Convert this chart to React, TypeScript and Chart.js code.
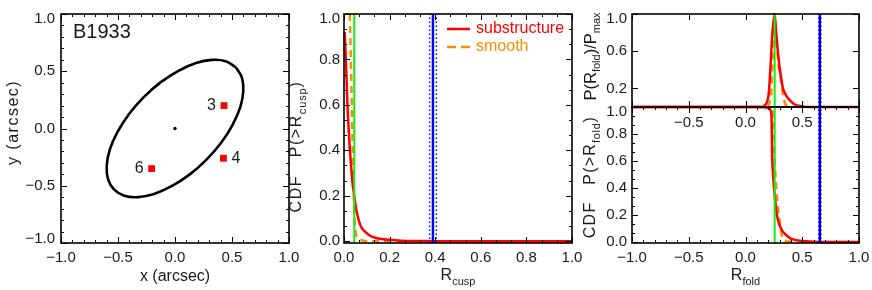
import React, { useEffect, useRef } from 'react';
import { Chart, registerables } from 'chart.js';

Chart.register(...registerables);

// ---------------- data ----------------
const LENS_NAME = 'B1933';
const POS_TICKS = [-1.0, -0.5, 0.0, 0.5, 1.0];
const ELLIPSE_X = [0.534, 0.445, 0.325, 0.184, 0.03, -0.127, -0.274, -0.403, -0.504, -0.572, -0.599, -0.587, -0.534, -0.445, -0.325, -0.184, -0.03, 0.127, 0.274, 0.403, 0.504, 0.572, 0.599, 0.587, 0.534];
const ELLIPSE_Y = [0.534, 0.587, 0.599, 0.572, 0.504, 0.403, 0.274, 0.127, -0.03, -0.184, -0.325, -0.445, -0.534, -0.587, -0.599, -0.572, -0.504, -0.403, -0.274, -0.127, 0.03, 0.184, 0.325, 0.445, 0.534];
const IMAGE_IDS = ['3', '4', '6'];
const IMAGE_X = [0.43, 0.425, -0.205];
const IMAGE_Y = [0.2, -0.26, -0.35];
const IMAGE_LABEL_SIDE = [-1, 1, -1];
const LENS_CENTER_X = [0.0];
const LENS_CENTER_Y = [0.0];

const SERIES_NAMES = ['substructure', 'smooth'];
const CUSP_TICKS = [0.0, 0.2, 0.4, 0.6, 0.8, 1.0];
const CDF_TICKS = [0.0, 0.2, 0.4, 0.6, 0.8, 1.0];
const CDF_MIN = -0.008;
const CDF_MAX = 1.0;
const CUSP_SUB_R = [0.003, 0.006, 0.01, 0.015, 0.02, 0.026, 0.032, 0.038, 0.045, 0.052, 0.06, 0.07, 0.08, 0.1, 0.12, 0.15, 0.2, 0.25, 0.3, 0.4, 0.6, 0.8, 1.0];
const CUSP_SUB_CDF = [0.92, 0.85, 0.75, 0.6, 0.5, 0.4, 0.32, 0.25, 0.2, 0.15, 0.11, 0.075, 0.055, 0.035, 0.021, 0.012, 0.006, 0.002, 0.001, 0.0, 0.0, 0.0, 0.0];
const CUSP_SMOOTH_R = [0.025, 0.028, 0.032, 0.036, 0.04, 0.044, 0.048, 0.055, 0.07, 0.1, 0.25];
const CUSP_SMOOTH_CDF = [1.0, 0.9, 0.72, 0.5, 0.3, 0.15, 0.06, 0.02, 0.005, 0.0, 0.0];
const CUSP_SMOOTH_PRED = 0.045;
const CUSP_OBSERVED = 0.39;
const CUSP_OBSERVED_ERR = [0.375, 0.405];

const FOLD_TICKS = [-1.0, -0.5, 0.0, 0.5, 1.0];
const FOLD_TOP_LABELS = [-0.5, 0.0, 0.5];
const PDF_TICKS = [0.2, 0.6, 1.0];
const FOLD_SUB_R = [-1.0, 0.15, 0.185, 0.205, 0.22, 0.237, 0.257, 0.27, 0.285, 0.3, 0.33, 0.36, 0.39, 0.43, 0.48, 0.55, 1.0];
const FOLD_SUB_PDF = [0.0, 0.0, 0.04, 0.15, 0.43, 0.8, 1.0, 0.8, 0.6, 0.43, 0.2, 0.12, 0.075, 0.03, 0.01, 0.0, 0.0];
const FOLD_SMOOTH_R = [0.2, 0.225, 0.237, 0.248, 0.257, 0.27, 0.29, 0.316, 0.33, 0.35, 0.38];
const FOLD_SMOOTH_PDF = [0.0, 0.1, 0.43, 0.8, 1.0, 0.75, 0.45, 0.27, 0.12, 0.03, 0.0];
const FOLD_SUB_CDF_R = [-1.0, 0.15, 0.19, 0.215, 0.228, 0.232, 0.236, 0.251, 0.265, 0.277, 0.29, 0.307, 0.33, 0.36, 0.4, 0.45, 0.5, 0.6, 0.7, 1.0];
const FOLD_SUB_CDF = [1.0, 1.0, 0.995, 0.985, 0.95, 0.8, 0.6, 0.4, 0.28, 0.2, 0.15, 0.11, 0.075, 0.05, 0.025, 0.013, 0.006, 0.002, 0.0, 0.0];
const FOLD_SMOOTH_CDF_R = [0.15, 0.225, 0.237, 0.25, 0.26, 0.275, 0.29, 0.305, 0.316, 0.33, 0.36, 0.42];
const FOLD_SMOOTH_CDF = [1.0, 1.0, 0.97, 0.75, 0.55, 0.35, 0.22, 0.13, 0.06, 0.02, 0.005, 0.0];
const FOLD_SMOOTH_PRED = 0.257;
const FOLD_OBSERVED = 0.655;
const FOLD_OBSERVED_ERR = [0.646, 0.664];

// ---------------- style ----------------
const W = 872;
const H = 290;
const FONT = "'Liberation Sans', Arial, Helvetica, sans-serif";
const TEXT = '#1a1a1a';
const RED = '#ff0000';
const ORANGE = '#ff8c00';
const GREEN = '#11ee11';
const BLUE = '#0000ff';
const AXIS_BOX = 40;
const MAJOR_LEN = 6;
const MINOR_LEN = 3;

type Area = { L: number; R: number; T: number; B: number };
const P1: Area = { L: 61, R: 289, T: 14, B: 243 };
const P2: Area = { L: 344, R: 572, T: 14, B: 243 };
const P3T: Area = { L: 632, R: 859, T: 14, B: 107 };
const P3B: Area = { L: 632, R: 859, T: 107, B: 243 };

type Pt = { x: number; y: number };
const pts = (xs: number[], ys: number[]): Pt[] => xs.map((x, i) => ({ x, y: ys[i] }));
const vline = (x: number, lo: number, hi: number): Pt[] => [{ x, y: lo }, { x, y: hi }];

function fmt(v: number): string {
  const s = Math.abs(v).toFixed(1);
  return v < -1e-9 ? '\u2212' + s : s;
}

function xAxis(min: number, max: number, labels: number[], pad: number) {
  return {
    type: 'linear',
    position: 'bottom',
    min,
    max,
    grid: { display: false, drawTicks: false },
    border: { display: false },
    afterBuildTicks: (s: any) => {
      s.ticks = labels.map((v) => ({ value: v }));
    },
    afterFit: (s: any) => {
      s.height = AXIS_BOX;
      s.paddingLeft = 0;
      s.paddingRight = 0;
    },
    ticks: {
      autoSkip: false,
      maxRotation: 0,
      minRotation: 0,
      padding: pad,
      color: TEXT,
      font: { family: FONT, size: 15 },
      callback: (v: any) => fmt(Number(v)),
    },
  };
}

function yAxis(min: number, max: number, labels: number[], pad: number, nudgeTop: boolean, nudgeBottom: boolean) {
  return {
    type: 'linear',
    position: 'left',
    min,
    max,
    grid: { display: false, drawTicks: false },
    border: { display: false },
    afterBuildTicks: (s: any) => {
      s.ticks = labels.map((v) => ({ value: v }));
    },
    afterFit: (s: any) => {
      s.width = AXIS_BOX;
      s.paddingTop = 0;
      s.paddingBottom = 0;
    },
    ticks: {
      autoSkip: false,
      padding: pad,
      color: TEXT,
      font: { family: FONT, size: 15, lineHeight: 0.6 },
      callback: (v: any, i: number, arr: any[]) => {
        const s = fmt(Number(v));
        if (nudgeTop && i === arr.length - 1) return ['', s];
        if (nudgeBottom && i === 0) return [s, ''];
        return s;
      },
    },
  };
}

function baseOptions(area: Area, x: any, y: any) {
  return {
    responsive: false,
    maintainAspectRatio: false,
    animation: false,
    devicePixelRatio: 1,
    events: [],
    layout: {
      autoPadding: false,
      padding: { left: area.L - AXIS_BOX, right: W - area.R, top: area.T, bottom: H - area.B - AXIS_BOX },
    },
    scales: { x, y },
    plugins: { legend: { display: false }, tooltip: { enabled: false } },
  };
}

const line = (data: Pt[], color: string, width: number, extra: any = {}) => ({
  data,
  showLine: true,
  borderColor: color,
  backgroundColor: color,
  borderWidth: width,
  pointRadius: 0,
  pointHoverRadius: 0,
  fill: false,
  clip: 4,
  tension: 0,
  ...extra,
});

type AxisTicks = { major: number[]; div: number };
function framePlugin(xt: AxisTicks, yt: AxisTicks) {
  const expand = (t: AxisTicks) => {
    const out: { v: number; len: number }[] = [];
    t.major.forEach((m, i) => {
      out.push({ v: m, len: MAJOR_LEN });
      if (i < t.major.length - 1 && t.div > 1) {
        const step = (t.major[i + 1] - m) / t.div;
        for (let k = 1; k < t.div; k++) out.push({ v: m + k * step, len: MINOR_LEN });
      }
    });
    return out;
  };
  return {
    id: 'idlFrame',
    afterDatasetsDraw(chart: any) {
      const { ctx, chartArea: a } = chart;
      const xs = chart.scales.x;
      const ys = chart.scales.y;
      ctx.save();
      ctx.strokeStyle = '#000';
      ctx.lineWidth = 1;
      ctx.beginPath();
      for (const t of expand(xt)) {
        const p = Math.round(xs.getPixelForValue(t.v)) + 0.5;
        ctx.moveTo(p, a.bottom);
        ctx.lineTo(p, a.bottom - t.len);
        ctx.moveTo(p, a.top);
        ctx.lineTo(p, a.top + t.len);
      }
      for (const t of expand(yt)) {
        const p = Math.round(ys.getPixelForValue(t.v)) + 0.5;
        ctx.moveTo(a.left, p);
        ctx.lineTo(a.left + t.len, p);
        ctx.moveTo(a.right, p);
        ctx.lineTo(a.right - t.len, p);
      }
      ctx.stroke();
      ctx.lineWidth = 1.6;
      ctx.strokeRect(a.left, a.top, a.right - a.left, a.bottom - a.top);
      ctx.restore();
    },
  };
}

type Part = { t: string; sub?: boolean };
function drawRich(ctx: CanvasRenderingContext2D, parts: Part[], x: number, y: number, rotate: boolean, size: number, color: string, align: 'center' | 'left', spacing: number) {
  const subSize = Math.round(size * 0.68);
  ctx.save();
  ctx.translate(x, y);
  if (rotate) ctx.rotate(-Math.PI / 2);
  ctx.fillStyle = color;
  ctx.textBaseline = 'middle';
  ctx.textAlign = 'left';
  const glyphs: { ch: string; w: number; sub: boolean }[] = [];
  for (const p of parts) {
    ctx.font = `${p.sub ? subSize : size}px ${FONT}`;
    if (spacing > 0) {
      for (const ch of p.t) glyphs.push({ ch, w: ctx.measureText(ch).width + spacing * (p.sub ? 0.6 : 1), sub: !!p.sub });
    } else {
      glyphs.push({ ch: p.t, w: ctx.measureText(p.t).width, sub: !!p.sub });
    }
  }
  const total = glyphs.reduce((s, g) => s + g.w, 0);
  let cx = align === 'center' ? -total / 2 : 0;
  for (const g of glyphs) {
    ctx.font = `${g.sub ? subSize : size}px ${FONT}`;
    ctx.fillText(g.ch, cx, g.sub ? size * 0.38 : 0);
    cx += g.w;
  }
  ctx.restore();
}

type TextItem = { parts: Part[]; rx: number; ry: number; dx: number; dy: number; rotate?: boolean; size?: number; color?: string; align?: 'center' | 'left'; spacing?: number };
function textPlugin(items: TextItem[]) {
  return {
    id: 'idlText',
    afterDraw(chart: any) {
      const a = chart.chartArea;
      for (const it of items) {
        const x = a.left + it.rx * (a.right - a.left) + it.dx;
        const y = a.top + it.ry * (a.bottom - a.top) + it.dy;
        drawRich(chart.ctx, it.parts, x, y, !!it.rotate, it.size || 16, it.color || TEXT, it.align || 'center', it.spacing || 0);
      }
    },
  };
}

function pointLabelPlugin(dsIndex: number, labels: string[], sides: number[]) {
  return {
    id: 'pointLabels',
    afterDatasetsDraw(chart: any) {
      const meta = chart.getDatasetMeta(dsIndex);
      const ctx = chart.ctx;
      ctx.save();
      ctx.font = `16px ${FONT}`;
      ctx.fillStyle = TEXT;
      ctx.textBaseline = 'middle';
      meta.data.forEach((el: any, i: number) => {
        const s = sides[i];
        ctx.textAlign = s < 0 ? 'right' : 'left';
        ctx.fillText(labels[i], el.x + s * 8, el.y);
      });
      ctx.restore();
    },
  };
}

function legendPlugin(items: { label: string; color: string; dash: number[] }[]) {
  return {
    id: 'idlLegend',
    afterDraw(chart: any) {
      const a = chart.chartArea;
      const ctx = chart.ctx;
      ctx.save();
      items.forEach((it, i) => {
        const y = a.top + 15 + i * 18;
        ctx.strokeStyle = it.color;
        ctx.lineWidth = 2.5;
        ctx.setLineDash(it.dash);
        ctx.beginPath();
        ctx.moveTo(a.left + 103, y);
        ctx.lineTo(a.left + 126, y);
        ctx.stroke();
        ctx.setLineDash([]);
        ctx.fillStyle = it.color;
        ctx.font = `16px ${FONT}`;
        ctx.textBaseline = 'middle';
        ctx.textAlign = 'left';
        ctx.fillText(it.label, a.left + 132, y);
      });
      ctx.restore();
    },
  };
}

// ---------------- panels ----------------
function panel1(): any {
  return {
    type: 'scatter',
    data: {
      datasets: [
        { data: pts(IMAGE_X, IMAGE_Y), pointStyle: 'rect', pointRadius: 4.8, backgroundColor: RED, borderColor: RED, borderWidth: 0, pointHoverRadius: 4.8 },
        { data: pts(LENS_CENTER_X, LENS_CENTER_Y), pointRadius: 1.7, backgroundColor: '#000', borderWidth: 0 },
        line(pts(ELLIPSE_X, ELLIPSE_Y), '#000', 2.6, { tension: 0.4 }),
      ],
    },
    options: baseOptions(P1, xAxis(-1, 1, POS_TICKS, 6), yAxis(-1, 1, POS_TICKS, 6, true, true)),
    plugins: [
      framePlugin({ major: POS_TICKS, div: 5 }, { major: POS_TICKS, div: 5 }),
      pointLabelPlugin(0, IMAGE_IDS, IMAGE_LABEL_SIDE),
      textPlugin([
        { parts: [{ t: LENS_NAME }], rx: 0, ry: 0, dx: 12, dy: 18, size: 20, align: 'left' },
        { parts: [{ t: 'x (arcsec)' }], rx: 0.5, ry: 1, dx: 0, dy: 34 },
        { parts: [{ t: 'y (arcsec)' }], rx: 0, ry: 0.5, dx: -47, dy: -6, rotate: true, spacing: 1.5 },
      ]),
    ],
  };
}

function panel2(): any {
  return {
    type: 'scatter',
    data: {
      datasets: [
        line(vline(CUSP_SMOOTH_PRED, CDF_MIN, CDF_MAX), GREEN, 2),
        line(vline(CUSP_OBSERVED, CDF_MIN, CDF_MAX), BLUE, 2.5),
        line(vline(CUSP_OBSERVED_ERR[0], CDF_MIN, CDF_MAX), BLUE, 1.5, { borderDash: [1.5, 2.5] }),
        line(vline(CUSP_OBSERVED_ERR[1], CDF_MIN, CDF_MAX), BLUE, 1.5, { borderDash: [1.5, 2.5] }),
        line(pts(CUSP_SUB_R, CUSP_SUB_CDF), RED, 2.5, { tension: 0.3 }),
        line(pts(CUSP_SMOOTH_R, CUSP_SMOOTH_CDF), ORANGE, 2.5, { borderDash: [7, 5] }),
      ],
    },
    options: baseOptions(P2, xAxis(0, 1, CUSP_TICKS, 6), yAxis(CDF_MIN, CDF_MAX, CDF_TICKS, 4, true, false)),
    plugins: [
      framePlugin({ major: CUSP_TICKS, div: 3 }, { major: CDF_TICKS, div: 3 }),
      legendPlugin([
        { label: SERIES_NAMES[0], color: RED, dash: [] },
        { label: SERIES_NAMES[1], color: ORANGE, dash: [9, 5] },
      ]),
      textPlugin([
        { parts: [{ t: 'R' }, { t: 'cusp', sub: true }], rx: 0.5, ry: 1, dx: 0, dy: 33 },
        { parts: [{ t: 'CDF   P(>R' }, { t: 'cusp', sub: true }, { t: ')' }], rx: 0, ry: 0.5, dx: -47, dy: 18, rotate: true, spacing: 1.5 },
      ]),
    ],
  };
}

function panel3Top(): any {
  return {
    type: 'scatter',
    data: {
      datasets: [
        line(vline(FOLD_SMOOTH_PRED, 0, 1), GREEN, 2),
        line(vline(FOLD_OBSERVED, 0, 1), BLUE, 2.5),
        line(vline(FOLD_OBSERVED_ERR[0], 0, 1), BLUE, 1.5, { borderDash: [1.5, 2.5] }),
        line(vline(FOLD_OBSERVED_ERR[1], 0, 1), BLUE, 1.5, { borderDash: [1.5, 2.5] }),
        line(pts(FOLD_SUB_R, FOLD_SUB_PDF), RED, 2.5, { tension: 0.2 }),
        line(pts(FOLD_SMOOTH_R, FOLD_SMOOTH_PDF), ORANGE, 2.5, { borderDash: [7, 5] }),
      ],
    },
    options: baseOptions(P3T, xAxis(-1, 1, FOLD_TOP_LABELS, 7), yAxis(0, 1, PDF_TICKS, 5, true, false)),
    plugins: [
      framePlugin({ major: FOLD_TICKS, div: 1 }, { major: PDF_TICKS, div: 1 }),
      textPlugin([
        { parts: [{ t: 'P(R' }, { t: 'fold', sub: true }, { t: ')/P' }, { t: 'max', sub: true }], rx: 0, ry: 0.5, dx: -41, dy: -4, rotate: true, size: 16.5 },
      ]),
    ],
  };
}

function panel3Bottom(): any {
  return {
    type: 'scatter',
    data: {
      datasets: [
        line(vline(FOLD_SMOOTH_PRED, CDF_MIN, CDF_MAX), GREEN, 2),
        line(vline(FOLD_OBSERVED, CDF_MIN, CDF_MAX), BLUE, 2.5),
        line(vline(FOLD_OBSERVED_ERR[0], CDF_MIN, CDF_MAX), BLUE, 1.5, { borderDash: [1.5, 2.5] }),
        line(vline(FOLD_OBSERVED_ERR[1], CDF_MIN, CDF_MAX), BLUE, 1.5, { borderDash: [1.5, 2.5] }),
        line(pts(FOLD_SUB_CDF_R, FOLD_SUB_CDF), RED, 2.5, { tension: 0.2 }),
        line(pts(FOLD_SMOOTH_CDF_R, FOLD_SMOOTH_CDF), ORANGE, 2.5, { borderDash: [7, 5] }),
      ],
    },
    options: baseOptions(P3B, xAxis(-1, 1, FOLD_TICKS, 6), yAxis(CDF_MIN, CDF_MAX, CDF_TICKS, 5, true, false)),
    plugins: [
      framePlugin({ major: FOLD_TICKS, div: 5 }, { major: CDF_TICKS, div: 3 }),
      textPlugin([
        { parts: [{ t: 'R' }, { t: 'fold', sub: true }], rx: 0.5, ry: 1, dx: 0, dy: 33 },
        { parts: [{ t: 'CDF   P(>R' }, { t: 'fold', sub: true }, { t: ')' }], rx: 0, ry: 0.5, dx: -41, dy: 2, rotate: true, spacing: 1.2 },
      ]),
    ],
  };
}

export default function App() {
  const r1 = useRef<HTMLCanvasElement>(null);
  const r2 = useRef<HTMLCanvasElement>(null);
  const r3 = useRef<HTMLCanvasElement>(null);
  const r4 = useRef<HTMLCanvasElement>(null);

  useEffect(() => {
    document.body.style.margin = '0';
    const cfgs = [panel1(), panel2(), panel3Top(), panel3Bottom()];
    const refs = [r1, r2, r3, r4];
    const charts = cfgs.map((cfg, i) => new Chart(refs[i].current as HTMLCanvasElement, cfg));
    return () => charts.forEach((c) => c.destroy());
  }, []);

  const style: React.CSSProperties = { position: 'absolute', left: 0, top: 0, width: W, height: H };
  return (
    <div style={{ position: 'fixed', left: 0, top: 0, width: W, height: H, background: '#fff' }}>
      <canvas ref={r1} width={W} height={H} style={style} />
      <canvas ref={r2} width={W} height={H} style={style} />
      <canvas ref={r3} width={W} height={H} style={style} />
      <canvas ref={r4} width={W} height={H} style={style} />
    </div>
  );
}
